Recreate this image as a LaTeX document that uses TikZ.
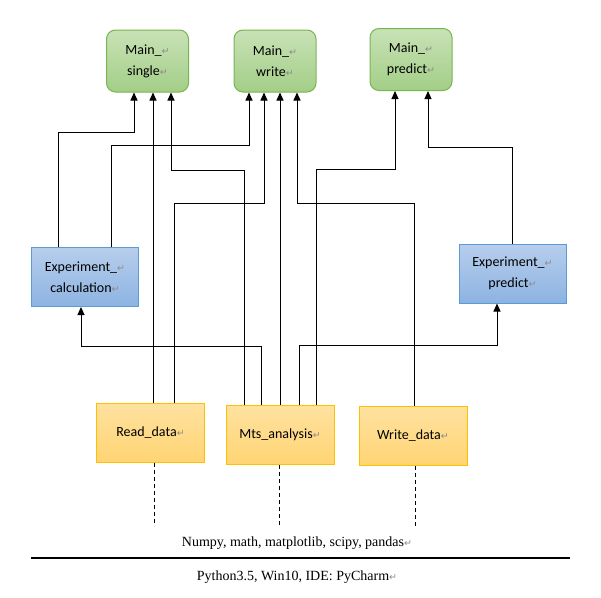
\documentclass[tikz,border=0pt]{standalone}
\usepackage{fontspec}
\setmainfont{Liberation Serif}
\newfontfamily\boxfont{Carlito}
\newfontfamily\symfont{DejaVu Sans}
\usepackage{tikz}
\usetikzlibrary{arrows.meta}
\definecolor{MainTop}{HTML}{C8E2B6}
\definecolor{MainBot}{HTML}{A3CE87}
\definecolor{MainLine}{HTML}{78B452}
\definecolor{ExpTop}{HTML}{B7CEEC}
\definecolor{ExpBot}{HTML}{8DB3E2}
\definecolor{ExpLine}{HTML}{5B9BD5}
\definecolor{DataTop}{HTML}{FFE2A0}
\definecolor{DataBot}{HTML}{FFD473}
\definecolor{DataLine}{HTML}{FFC000}
\definecolor{RetGray}{HTML}{8C8C8C}
\newcommand{\ret}{{\symfont\color{RetGray}\fontsize{9.5}{9.5}\selectfont ↵}}

\begin{document}
\begin{tikzpicture}[x=1pt,y=-1pt,>={Triangle[width=7pt,length=8pt]},line width=1pt]
  \tikzstyle{mainbox}=[draw=MainLine,top color=MainTop,bottom color=MainBot,
    rounded corners=9pt,minimum width=82pt,minimum height=62pt,align=center,
    font=\boxfont\fontsize{14}{21}\selectfont]
  \tikzstyle{expbox}=[draw=ExpLine,top color=ExpTop,bottom color=ExpBot,
    minimum width=107pt,minimum height=59pt,align=center,
    font=\boxfont\fontsize{14}{21}\selectfont]
  \tikzstyle{databox}=[draw=DataLine,top color=DataTop,bottom color=DataBot,
    minimum width=108pt,minimum height=59pt,align=center,
    font=\boxfont\fontsize{14}{21}\selectfont]
  \tikzstyle{link}=[->,black]
  \useasboundingbox (0,0) rectangle (601,597);
  % top row
  \node[mainbox] (ms) at (147.5,61) {Main\_\ret\\single\ret};
  \node[mainbox] (mw) at (275,61) {Main\_\ret\\write\ret};
  \node[mainbox] (mp) at (411,59.5) {Main\_\ret\\predict\ret};
  % middle row
  \node[expbox] (ec) at (85,277) {Experiment\_\ret\\calculation\ret};
  \node[expbox] (ep) at (512.5,273.5) {Experiment\_\ret\\predict\ret};
  % bottom row
  \node[databox] (rd) at (150.5,432.5) {Read\_data\ret};
  \node[databox] (ma) at (280,435) {Mts\_analysis\ret};
  \node[databox] (wd) at (413,436) {Write\_data\ret};
  % links to Main_single
  \draw[link] ([xshift=-27pt]ec.north) -- ++(0,-115) -| ([xshift=-13.5pt]ms.south);
  \draw[link] ([xshift=2.5pt]rd.north) -- ([xshift=2.5pt]rd.north |- ms.south);
  \draw[link] ([xshift=-36pt]ma.north) -- ++(0,-235) -| ([xshift=23.5pt]ms.south);
  % links to Main_write
  \draw[link] ([xshift=26pt]ec.north) -- ++(0,-102) -| ([xshift=-26pt]mw.south);
  \draw[link] ([xshift=23.5pt]rd.north) -- ++(0,-199) -| ([xshift=-11pt]mw.south);
  \draw[link] (ma.north) -- (ma.north |- mw.south);
  \draw[link] ([xshift=1pt]wd.north) -- ++(0,-203) -| ([xshift=22pt]mw.south);
  % links to Main_predict
  \draw[link] ([xshift=36pt]ma.north) -- ++(0,-236) -| ([xshift=-16pt]mp.south);
  \draw[link] (ep.north) -- ++(0,-96) -| ([xshift=17pt]mp.south);
  % links to experiments
  \draw[link] ([xshift=-19pt]ma.north) -- ++(0,-59) -| ([xshift=-4pt]ec.south);
  \draw[link] ([xshift=19pt]ma.north) -- ++(0,-60) -| ([xshift=-15.5pt]ep.south);
  % libraries
  \draw[dash pattern=on 4pt off 3pt] ([xshift=3.5pt]rd.south) -- ++(0,63);
  \draw[dash pattern=on 4pt off 3pt] ([xshift=-1pt]ma.south) -- ++(0,60);
  \draw[dash pattern=on 4pt off 3pt] ([xshift=2pt]wd.south) -- ++(0,60);
  \node[font=\fontsize{14}{16}\selectfont] (lib) at (297,543) {Numpy, math, matplotlib, scipy, pandas\ret};
  \coordinate (baseL) at (31,558);
  \coordinate (baseR) at (570,558);
  \draw[line width=2pt] (baseL) -- (baseR);
  \node[font=\fontsize{14}{16}\selectfont] (env) at (297,577) {Python3.5, Win10, IDE: PyCharm\ret};
\end{tikzpicture}
\end{document}
